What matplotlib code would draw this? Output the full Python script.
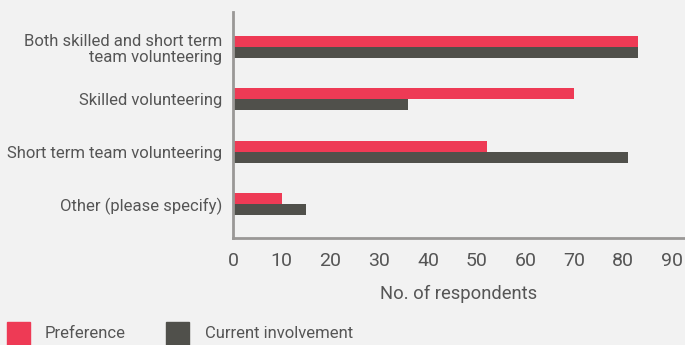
import matplotlib.pyplot as plt
import matplotlib.patches as mpatches
from matplotlib import font_manager
import numpy as np

# Survey answers
categories = ['Both skilled and short term\nteam volunteering',
              'Skilled volunteering',
              'Short term team volunteering',
              'Other (please specify)']
preference = [83, 70, 52, 10]
current = [83, 36, 81, 15]
x_ticks = [0, 10, 20, 30, 40, 50, 60, 70, 80, 90]

RED = '#EE3A55'
DARK = '#50504B'
BG = '#F2F2F2'
TXT = '#555555'

names = {f.name for f in font_manager.fontManager.ttflist}
font = 'Roboto' if 'Roboto' in names else 'DejaVu Sans'
plt.rcParams['font.family'] = [font, 'DejaVu Sans']

fig = plt.figure(figsize=(6.85, 3.45), dpi=100, facecolor=BG)
ax = fig.add_axes([0.340, 0.310, 0.660, 0.655], facecolor=BG)

pos = np.arange(len(categories))[::-1]
h = 0.21
ax.barh(pos + h / 2, preference, height=h, color=RED)
ax.barh(pos - h / 2, current, height=h, color=DARK)

ax.set_xlim(0, 92.7)
ax.set_ylim(-0.65, 3.67)
ax.set_yticks(pos)
ax.set_yticklabels(categories, fontsize=12, color=TXT, linespacing=1.15)
ax.set_xticks(x_ticks)
ax.set_xticklabels([str(t) for t in x_ticks], fontsize=14, color=TXT)
ax.tick_params(length=0, pad=10)
ax.tick_params(axis='y', pad=7.5)
ax.set_xlabel('No. of respondents', fontsize=13.2, color=TXT, labelpad=11)

for s in ['top', 'right']:
    ax.spines[s].set_visible(False)
for s in ['left', 'bottom']:
    ax.spines[s].set_color('#9A9896')
    ax.spines[s].set_linewidth(2)

# legend along the bottom edge
fig.patches.append(mpatches.Rectangle((7 / 685, 0), 23 / 685, 23 / 345,
                                      transform=fig.transFigure, color=RED))
fig.text(45 / 685, 11 / 345, 'Preference', fontsize=12, color=TXT, va='center')
fig.patches.append(mpatches.Rectangle((166 / 685, 0), 23 / 685, 23 / 345,
                                      transform=fig.transFigure, color=DARK))
fig.text(205 / 685, 11 / 345, 'Current involvement', fontsize=12, color=TXT, va='center')

fig.savefig('out.png', dpi=100, facecolor=BG)
